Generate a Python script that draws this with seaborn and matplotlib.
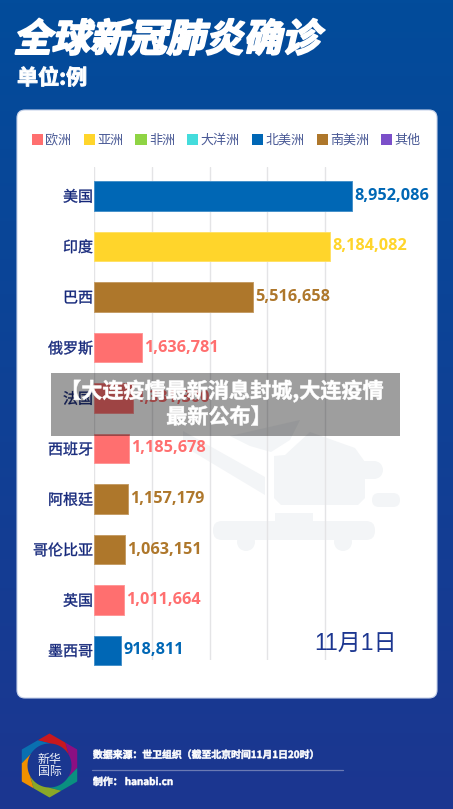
import numpy as np
import pandas as pd
import matplotlib
matplotlib.use("Agg")
import matplotlib.pyplot as plt
import seaborn as sns
from matplotlib.patches import FancyBboxPatch, Patch, Polygon, Circle, Rectangle
from matplotlib.patheffects import AbstractPathEffect
from matplotlib.transforms import Affine2D
from matplotlib.colors import to_rgb, LinearSegmentedColormap

countries = ["美国", "印度", "巴西", "俄罗斯", "法国", "西班牙", "阿根廷", "哥伦比亚", "英国", "墨西哥"]
cases = [8952086, 8184082, 5516658, 1636781, 1331300, 1185678, 1157179, 1063151, 1011664, 918811]
regions = ["北美洲", "亚洲", "南美洲", "欧洲", "欧洲", "欧洲", "南美洲", "南美洲", "欧洲", "北美洲"]
legend_names = ["欧洲", "亚洲", "非洲", "大洋洲", "北美洲", "南美洲", "其他"]
legend_colors = ["#ff6f6f", "#ffd52b", "#8fd444", "#44dcdc", "#0067b5", "#ae772b", "#7b4fc9"]
x_ticks = [0, 2000000, 4000000, 6000000, 8000000]

W, H = 453, 809
sns.set_theme(style="white")
CJK = ["Noto Sans CJK SC", "DejaVu Sans"]
plt.rcParams["font.family"] = CJK

fig = plt.figure(figsize=(W / 100, H / 100), dpi=100)


class Skewed(AbstractPathEffect):
    """Slant glyphs and thicken them, keeping the text real."""
    def __init__(self, y0, deg=12, lw=0.0):
        super().__init__()
        self.y0, self.deg, self.lw = y0, deg, lw

    def draw_path(self, renderer, gc, tpath, affine, rgbFace=None):
        t = affine + Affine2D().translate(0, -self.y0).skew_deg(self.deg, 0).translate(0, self.y0)
        g = renderer.new_gc()
        g.copy_properties(gc)
        if self.lw:
            g.set_linewidth(self.lw)
            g.set_foreground(rgbFace)
        renderer.draw_path(g, tpath, t, rgbFace)
        g.restore()


class Fat(AbstractPathEffect):
    def __init__(self, lw):
        super().__init__()
        self.lw = lw

    def draw_path(self, renderer, gc, tpath, affine, rgbFace=None):
        g = renderer.new_gc()
        g.copy_properties(gc)
        g.set_linewidth(self.lw)
        g.set_foreground(rgbFace)
        renderer.draw_path(g, tpath, affine, rgbFace)
        g.restore()


# ---------- background layer in pixel coordinates ----------
bg = fig.add_axes([0, 0, 1, 1], zorder=0)
bg.set_xlim(0, W)
bg.set_ylim(H, 0)
bg.axis("off")
cmap = LinearSegmentedColormap.from_list("bgc", ["#024c9b", "#1c3690"])
bg.imshow(np.linspace(0, 1, 256)[:, None], extent=[0, W, H, 0], aspect="auto", cmap=cmap, zorder=0)
bg.set_xlim(0, W)
bg.set_ylim(H, 0)

bg.add_patch(FancyBboxPatch((22, 115), 410, 578, boxstyle="round,pad=5,rounding_size=8",
                            fc="white", ec="#c8d3ea", lw=0.8, zorder=1))

# watermark
wm = "#f3f5f7"
def rbox(x0, y0, x1, y1, r):
    bg.add_patch(FancyBboxPatch((x0 + r, y0 + r), x1 - x0 - 2 * r, y1 - y0 - 2 * r,
                                boxstyle=f"round,pad={r},rounding_size={r}", fc=wm, ec="none", zorder=2))
rbox(213, 521, 375, 540, 9)
rbox(372, 493, 400, 507, 7)
bg.add_patch(Rectangle((275, 513), 38, 9, fc=wm, ec="none", zorder=2))
bg.add_patch(Circle((246, 542), 9, fc=wm, ec="none", zorder=2))
bg.add_patch(Circle((343, 542), 9, fc=wm, ec="none", zorder=2))
bg.add_patch(Circle((374, 470), 9, fc=wm, ec="none", zorder=2))
bg.add_patch(Rectangle((360, 461), 14, 18, fc=wm, ec="none", zorder=2))
bg.add_patch(Polygon([(274, 456), (285, 455), (310, 432), (355, 448), (365, 462), (365, 498), (358, 505),
                      (281, 505), (274, 498)], fc=wm, ec="none", zorder=2))
bg.add_patch(Polygon([(183, 431), (265, 477), (265, 495), (190, 450), (183, 440)], fc=wm, ec="none", zorder=2))
bg.add_patch(Polygon([(230, 436), (300, 420), (290, 440), (271, 452), (250, 446)], fc=wm, ec="none", zorder=2))

# ---------- the chart ----------
px_per_unit = 57.6 / 2000000
ax = fig.add_axes([94.4 / W, (H - 660) / H, (437 - 94.4) / W, (660 - 167) / H], zorder=1)
ax.patch.set_alpha(0)
df = pd.DataFrame({"country": countries, "cases": cases, "region": regions})
palette = dict(zip(legend_names, legend_colors))
sns.barplot(data=df, y="country", x="cases", hue="region", palette=palette, dodge=False,
            width=0.594, saturation=1, legend=False, ax=ax, zorder=3)
ax.set_xlim(0, (437 - 94.4) / px_per_unit)
ax.set_ylim((660 - 196) / 50.5, (167 - 196) / 50.5)
ax.set_xticks(x_ticks)
ax.set_xticklabels([])
ax.set_xlabel("")
ax.set_ylabel("")
ax.grid(axis="x", color="#e4e4e6", lw=1)
ax.set_axisbelow(True)
for s in ax.spines.values():
    s.set_visible(False)
ax.tick_params(axis="both", length=0)
ax.tick_params(axis="y", pad=1.0)
for lab in ax.get_yticklabels():
    lab.set_fontsize(10.8)
    lab.set_color("#14277a")
    lab.set_path_effects([Fat(0.25)])
for c in ax.containers:
    col = to_rgb(c.patches[0].get_facecolor()[:3])
    light = tuple(v + (1 - v) * 0.28 for v in col)
    for b in c.patches:
        b.set_clip_on(False)
        b.set_edgecolor(light)
        b.set_linewidth(0.7)
    ax.bar_label(c, fmt="{:,.0f}", padding=1.6, color=col, fontsize=11.7, fontweight="bold",
                 family=["Open Sans", "DejaVu Sans"], clip_on=False)

handles = [Patch(fc=c, ec="none") for c in legend_colors]
fig.legend(handles, legend_names, ncol=7, loc="center left", bbox_to_anchor=(32 / W, 1 - 140.5 / H),
           frameon=False, fontsize=9.4, labelcolor="#4a5a96", handlelength=0.85, handleheight=0.85,
           handletextpad=0.18, columnspacing=0.94, borderpad=0, borderaxespad=0)

# ---------- foreground layer ----------
fg = fig.add_axes([0, 0, 1, 1], zorder=2)
fg.set_xlim(0, W)
fg.set_ylim(H, 0)
fg.axis("off")
fg.patch.set_alpha(0)

fg.text(13, 40, "全球新冠肺炎确诊", color="white", fontsize=27.6, fontweight="bold", va="center", ha="left",
        path_effects=[Skewed(H - 52, deg=13, lw=1.4)])
fg.text(17, 78, "单位:例", color="white", fontsize=15.2, fontweight="bold", va="center", ha="left",
        path_effects=[Fat(0.7)])
fg.text(355, 643, "11月1日", color="#1c3690", fontsize=16.6, va="center", ha="center",
        family=["Liberation Sans", "Noto Sans CJK SC"])

# headline banner
fg.add_patch(Rectangle((51, 373), 349, 63, fc="black", ec="none", alpha=0.38))
fg.text(222, 391, "【大连疫情最新消息封城,大连疫情", color="white", fontsize=15.2, fontweight="bold",
        va="center", ha="center", path_effects=[Fat(0.4)])
fg.text(219, 417, "最新公布】", color="white", fontsize=15.2, fontweight="bold", va="center", ha="center",
        path_effects=[Fat(0.4)])

# logo
cx, cy, R, r = 49.5, 765.5, 32, 22
logo_colors = ["#c8181e", "#8c0f82", "#0a9080", "#8aa828", "#f09000", "#0a70b0"]
def hex_r(t):
    return R * np.cos(np.pi / 6) / np.cos(((t - np.pi / 2) % (np.pi / 3)) - np.pi / 6)
for k, col in enumerate(logo_colors):
    t0 = np.deg2rad(115 - 60 * k)
    ts = np.linspace(t0, t0 - np.pi / 3, 30)
    outer = [(cx + hex_r(t) * np.cos(t), cy - hex_r(t) * np.sin(t)) for t in ts]
    ti = np.linspace(t0 - np.pi / 3 - np.deg2rad(28), t0 - np.deg2rad(28), 30)
    inner = [(cx + r * np.cos(t), cy - r * np.sin(t)) for t in ti]
    fg.add_patch(Polygon(outer + inner, fc=col, ec="none"))
fg.text(cx, 760, "新华", color="#eef1f8", fontsize=8.6, ha="center", va="center")
fg.text(cx, 772, "国际", color="#eef1f8", fontsize=8.6, ha="center", va="center")

# footer
fg.text(93, 755, "数据来源：世卫组织（截至北京时间11月1日20时）", color="white", fontsize=7.1, fontweight="bold",
        va="center", ha="left", path_effects=[Fat(0.4)])
fg.plot([92, 343], [769.7, 769.7], color="#6a7ab4", lw=0.9)
fg.text(93, 782, "制作： hanabi.cn", color="white", fontsize=7.1, fontweight="bold", va="center", ha="left",
        path_effects=[Fat(0.4)])
fg.set_xlim(0, W)
fg.set_ylim(H, 0)

fig.savefig("out.png", dpi=100)
